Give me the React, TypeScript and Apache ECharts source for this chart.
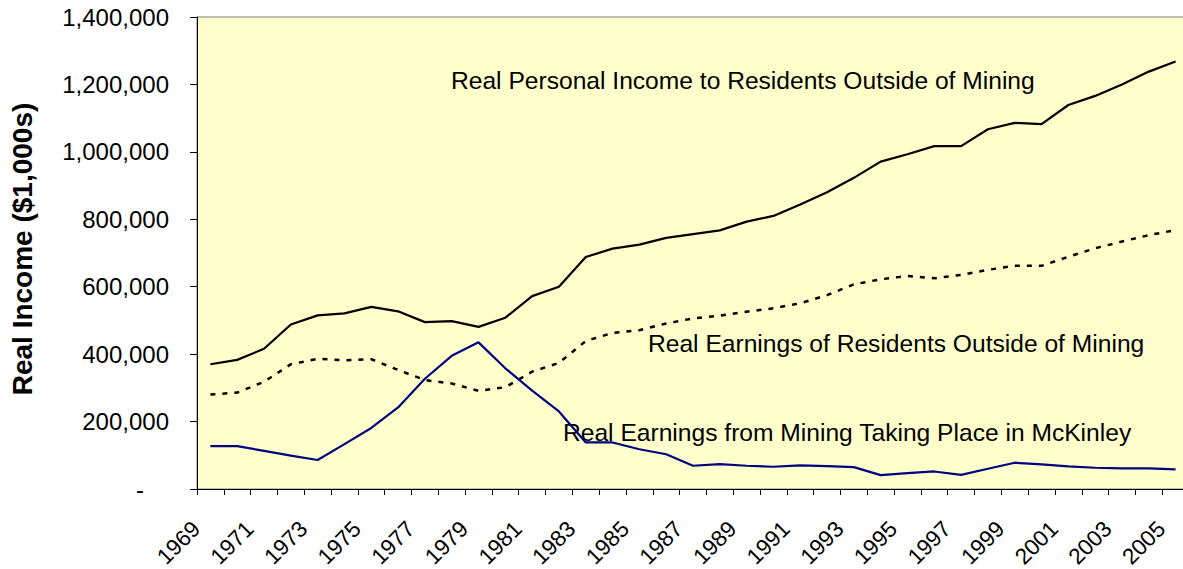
import React, { useEffect, useRef } from "react";
import * as echarts from "echarts";

const years: string[] = [
  "1969","1970","1971","1972","1973","1974","1975","1976","1977","1978",
  "1979","1980","1981","1982","1983","1984","1985","1986","1987","1988",
  "1989","1990","1991","1992","1993","1994","1995","1996","1997","1998",
  "1999","2000","2001","2002","2003","2004","2005",
];

const personalIncomeOutsideMining: number[] = [
  370000, 383000, 416000, 488000, 515000, 521000, 540000, 527000, 495000, 498000,
  481000, 508000, 572000, 600000, 688000, 713000, 725000, 745000, 756000, 767000,
  793000, 810000, 844000, 880000, 923000, 971000, 993000, 1017000, 1017000, 1067000,
  1086000, 1082000, 1139000, 1166000, 1200000, 1238000, 1268000,
];

const earningsOutsideMining: number[] = [
  280000, 286000, 318000, 370000, 386000, 382000, 385000, 353000, 323000, 313000,
  291000, 302000, 348000, 374000, 439000, 463000, 471000, 491000, 506000, 514000,
  526000, 536000, 551000, 575000, 607000, 622000, 632000, 625000, 635000, 650000,
  662000, 662000, 689000, 714000, 734000, 753000, 768000,
];

const miningEarnings: number[] = [
  127000, 127000, 113000, 99000, 86000, 133000, 181000, 242000, 327000, 395000,
  435000, 358000, 292000, 230000, 138000, 138000, 118000, 103000, 69000, 74000,
  69000, 66000, 70000, 68000, 65000, 41000, 47000, 52000, 42000, 60000,
  78000, 73000, 67000, 63000, 61000, 61000, 58000,
];

const labelPersonal = "Real Personal Income to Residents Outside of Mining";
const labelEarnings = "Real Earnings of Residents Outside of Mining";
const labelMining = "Real Earnings from Mining Taking Place in McKinley";
const yTitle = "Real Income ($1,000s)";

const FONT = '"Liberation Sans", Arial, sans-serif';

export default function App() {
  const ref = useRef<HTMLDivElement>(null);
  useEffect(() => {
    if (!ref.current) return;
    const chart = echarts.init(ref.current, null, { renderer: "svg" });
    chart.setOption({
      animation: false,
      backgroundColor: "#ffffff",
      grid: {
        left: 197,
        top: 17,
        width: 992,
        height: 472,
        outerBoundsMode: "none",
        containLabel: false,
        show: true,
        backgroundColor: "#FFFFCC",
        borderColor: "#808080",
        borderWidth: 1,
      },
      xAxis: {
        type: "category",
        data: years,
        boundaryGap: true,
        axisLine: { lineStyle: { color: "#000000", width: 1 } },
        axisTick: { show: true, interval: 0, length: 6, lineStyle: { color: "#000000" } },
        axisLabel: {
          interval: 1,
          rotate: 45,
          margin: 22,
          padding: [0, 20, 0, 0],
          fontSize: 22.5,
          fontFamily: FONT,
          color: "#000000",
        },
        splitLine: { show: false },
      },
      yAxis: {
        type: "value",
        min: 0,
        max: 1400000,
        interval: 200000,
        axisLine: { show: true, lineStyle: { color: "#000000", width: 1 } },
        axisTick: { show: true, length: 7, lineStyle: { color: "#000000" } },
        splitLine: { show: false },
        axisLabel: {
          margin: 28,
          fontSize: 24,
          fontFamily: FONT,
          color: "#000000",
          formatter: (v: number) =>
            v === 0 ? "{z|-}" : v.toLocaleString("en-US"),
          rich: {
            z: {
              fontSize: 24,
              fontFamily: FONT,
              color: "#000000",
              padding: [0, 25, 0, 0],
            },
          },
        },
      },
      series: [
        {
          name: labelPersonal,
          type: "line",
          data: personalIncomeOutsideMining,
          symbol: "none",
          lineStyle: { color: "#000000", width: 2.2 },
        },
        {
          name: labelEarnings,
          type: "line",
          data: earningsOutsideMining,
          symbol: "none",
          lineStyle: { color: "#000000", width: 2.5, type: [5, 7] },
        },
        {
          name: labelMining,
          type: "line",
          data: miningEarnings,
          symbol: "none",
          lineStyle: { color: "#000080", width: 2.2 },
        },
      ],
      graphic: [
        {
          type: "text",
          x: 451,
          y: 80.5,
          style: {
            text: labelPersonal,
            fontSize: 24.6,
            fontFamily: FONT,
            fill: "#000000",
            verticalAlign: "middle",
            align: "left",
          },
        },
        {
          type: "text",
          x: 648,
          y: 343.5,
          style: {
            text: labelEarnings,
            fontSize: 24.6,
            fontFamily: FONT,
            fill: "#000000",
            verticalAlign: "middle",
            align: "left",
          },
        },
        {
          type: "text",
          x: 563,
          y: 432.5,
          style: {
            text: labelMining,
            fontSize: 24.6,
            fontFamily: FONT,
            fill: "#000000",
            verticalAlign: "middle",
            align: "left",
          },
        },
        {
          type: "text",
          x: 22.5,
          y: 249,
          rotation: Math.PI / 2,
          style: {
            text: yTitle,
            fontSize: 28,
            fontWeight: "bold",
            fontFamily: FONT,
            fill: "#000000",
            verticalAlign: "middle",
            align: "center",
          },
        },
      ],
    });
    return () => chart.dispose();
  }, []);
  return (
    <div
      ref={ref}
      style={{ position: "absolute", left: 0, top: 0, width: 1183, height: 569 }}
    />
  );
}
